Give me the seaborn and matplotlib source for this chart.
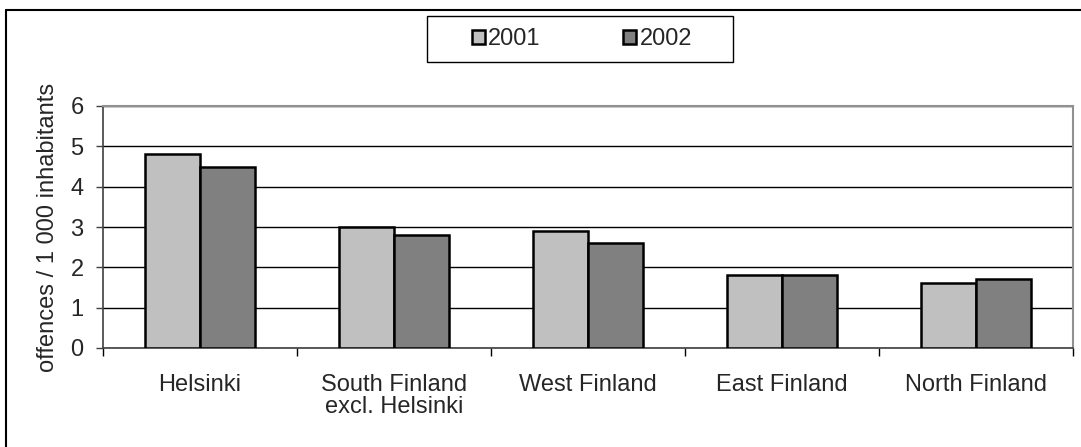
import numpy as np
import pandas as pd
import matplotlib
matplotlib.use("Agg")
import matplotlib.pyplot as plt
from matplotlib.lines import Line2D
from matplotlib.patches import Rectangle
import seaborn as sns

regions = ["Helsinki", "South Finland\nexcl. Helsinki", "West Finland", "East Finland", "North Finland"]
years = ["2001", "2002"]
values_2001 = [4.8, 3.0, 2.9, 1.8, 1.6]
values_2002 = [4.5, 2.8, 2.6, 1.8, 1.7]

df = pd.DataFrame({
    "region": regions * 2,
    "year": [years[0]] * len(regions) + [years[1]] * len(regions),
    "value": values_2001 + values_2002,
})

sns.set_style("white")
plt.rcParams["font.family"] = ["Liberation Sans", "DejaVu Sans"]
FS = 17

W, H = 1081, 447
fig = plt.figure(figsize=(W / 100, H / 100), dpi=100)
ax = fig.add_axes([103 / W, 1 - 348 / H, 970 / W, 242 / H])

palette = {"2001": "#C0C0C0", "2002": "#808080"}
sns.barplot(data=df, x="region", y="value", hue="year", order=regions,
            hue_order=years, palette=palette, width=0.572, gap=0,
            edgecolor="black", linewidth=1.8, saturation=1, ax=ax, zorder=3)

ax.set_xlim(-0.5, len(regions) - 0.5)
ax.set_ylim(0, 6)
ax.set_yticks(range(0, 7))
ax.yaxis.grid(True, color="black", linewidth=1, zorder=0)
ax.set_axisbelow(True)

ax.set_xlabel("")
ax.set_ylabel("offences / 1 000 inhabitants", fontsize=FS, labelpad=8)
ax.tick_params(axis="both", labelsize=FS)
ax.tick_params(axis="y", direction="out", length=5, width=1, left=True, color="#404040", pad=9)
ax.tick_params(axis="x", which="major", length=0, pad=19)
for lbl in ax.get_xticklabels():
    lbl.set_linespacing(1.0)
ax.set_xticks(np.arange(-0.5, len(regions), 1.0), minor=True)
ax.tick_params(axis="x", which="minor", direction="out", length=6, width=1, bottom=True, color="black")

for side in ["left", "bottom"]:
    ax.spines[side].set_color("#404040")
    ax.spines[side].set_linewidth(1.2)
for side in ["top", "right"]:
    ax.spines[side].set_visible(True)
    ax.spines[side].set_color("#909090")
    ax.spines[side].set_linewidth(1.5)

handles, labels = ax.get_legend_handles_labels()
ax.get_legend().remove()
leg = fig.legend(handles, labels, loc="center", bbox_to_anchor=(582 / W, 1 - 39 / H),
                 ncol=2, fontsize=FS, frameon=False,
                 handlelength=0.55, handleheight=0.55, handletextpad=0.15,
                 columnspacing=3.5, borderpad=0, borderaxespad=0)

# legend box
fig.add_artist(Rectangle((427 / W, 1 - 62 / H), 306 / W, 46 / H, transform=fig.transFigure,
                         facecolor="none", edgecolor="black", linewidth=1))

# outer chart frame (only top and left visible)
fig.add_artist(Line2D([6 / W, 6 / W], [0, 1 - 10 / H], transform=fig.transFigure,
                      color="black", linewidth=1.5))
fig.add_artist(Line2D([6 / W, 1], [1 - 10 / H, 1 - 10 / H], transform=fig.transFigure,
                      color="black", linewidth=1.5))

fig.savefig("out.png", dpi=100)
